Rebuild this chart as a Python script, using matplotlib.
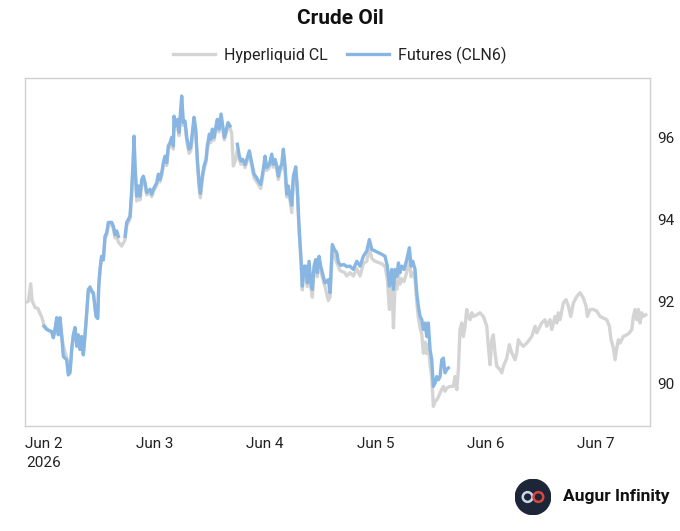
import numpy as np
import pandas as pd
import matplotlib
matplotlib.use("Agg")
import matplotlib.pyplot as plt
from matplotlib.patches import Circle

plt.rcParams['font.family'] = ['Roboto', 'DejaVu Sans']

# hours after 2026-06-02 00:00 and prices
# futures (CLN6); nan = daily break
fut_hours = [0.00, 0.59, 1.67, 2.02, 2.39, 2.76, 3.11, 3.48, 3.85, 4.20, 4.93, 5.28, 5.65, 6.02, 6.37,
             6.74, 7.11, 7.46, 7.83, 8.20, 8.54, 8.91, 9.28, 9.63, 10.00, 10.37, 10.72, 11.30, 11.67,
             11.89, 12.17, 12.50, 12.89, 13.26, 13.63, 13.98, 14.72, 15.07, 15.43, 15.80, 16.15, 16.60,
             17.61, 17.98, 18.70, 19.07, 19.41, 19.57, 19.78, 20.15, 20.50, 20.87, 21.24, 21.59, 21.96,
             22.33, 23.04, 23.41, 23.76, 24.50, 24.85, 25.22, 25.59, 25.94, 26.30, 26.67, 27.02, 27.39,
             27.76, 28.11, 28.26, 28.63, 29.07, 29.35, 29.57, 29.93, 30.28, 30.65, 31.02, 31.52, 31.89,
             32.24, 32.61, 32.98, 33.33, 33.70, 33.98, 34.41, 34.78, 35.22, 35.50, 35.94, 36.24, 36.59,
             36.96, 37.33, 37.67, 38.04, 38.48, 38.85, 39.20, 39.57, 40.00, 40.43, 41.00,
             42.02, 42.46, 42.83, 43.20, 43.70, 44.07, 44.63, 45.15, 45.65, 46.24, 46.59, 47.11, 47.67,
             48.04, 48.41, 48.98, 49.50, 49.85, 50.22, 50.59, 50.93, 51.30, 51.67, 52.02, 52.39, 52.76,
             53.11, 53.48, 53.85, 54.20, 54.72, 55.07, 55.43, 55.87, 56.15, 56.52, 56.89, 57.24, 57.61,
             57.98, 58.33, 58.70, 59.07, 59.41, 59.78, 60.15, 60.50, 61.09, 61.80, 62.17, 62.67, 63.11,
             63.63, 64.00, 64.50, 65.20,
             65.80, 66.52, 67.24, 67.98, 68.70, 69.41, 70.15, 70.72, 71.24, 71.96, 72.67, 73.41, 74.13,
             74.63, 75.07, 75.59, 75.96, 76.32, 76.69, 77.04, 77.39, 77.76, 78.26, 78.85, 79.41, 79.78,
             80.15, 80.65, 81.02, 81.37, 81.74, 82.11, 82.46, 82.83, 83.20, 83.54, 83.91, 84.28, 84.63,
             85.00, 85.37, 85.72, 86.09, 86.46, 86.80, 87.17, 87.54, 87.89]
fut_price = [91.39, 91.31, 91.26, 91.11, 91.31, 91.60, 91.18, 91.60, 91.14, 90.65, 90.57, 90.20, 90.25,
             90.82, 91.18, 91.36, 90.90, 91.18, 90.82, 91.14, 90.69, 91.18, 91.72, 92.29, 92.34, 92.25,
             92.21, 91.63, 91.58, 92.37, 92.78, 93.10, 93.02, 93.59, 93.68, 93.93, 93.93, 93.84, 93.63,
             93.72, 93.59, np.nan,
             93.59, 93.93, 94.08, 94.74, 95.55, 96.04, 95.31, 94.57, 94.82, 94.57, 94.98, 95.06, 94.90,
             94.66, 94.74, 94.62, 94.74, 94.90, 95.11, 94.98, 95.15, 95.39, 95.55, 95.39, 95.80, 95.88,
             96.01, 95.80, 96.53, 96.29, 96.45, 96.13, 96.45, 97.02, 96.37, 96.41, 96.01, 95.72, 95.76,
             96.13, 96.50, 96.21, 95.47, 94.90, 94.64, 95.06, 95.31, 95.47, 95.80, 96.09, 95.96, 96.21,
             96.01, 96.25, 96.45, 96.21, 96.58, 96.29, 96.01, 96.17, 96.37, 96.29, np.nan,
             95.84, 95.55, 95.43, 95.47, 95.35, 95.47, 95.68, 95.39, 95.11, 95.02, 94.94, 94.86, 95.23,
             95.55, 95.27, 95.35, 95.60, 95.35, 95.47, 95.31, 95.06, 95.27, 95.35, 95.72, 95.31, 94.62,
             94.82, 94.57, 94.35, 95.06, 95.29, 94.74, 93.84, 93.02, 92.37, 92.86, 92.86, 92.45, 92.98,
             92.45, 92.29, 92.86, 93.02, 92.70, 93.10, 92.86, 92.70, 92.45, 92.53, 92.21, 93.39, 93.27,
             93.19, 92.95, 92.88, 92.90,
             92.85, 92.86, 92.78, 92.98, 92.86, 93.10, 93.23, 93.51, 93.27, 93.23, 93.19, 93.15, 93.10,
             92.86, 92.37, 92.78, 92.29, 92.78, 92.61, 92.94, 92.70, 92.86, 92.78, 93.02, 93.31, 92.86,
             92.98, 92.78, 92.21, 91.88, 91.63, 91.55, 91.31, 91.47, 91.14, 91.47, 90.82, 90.57, 89.92,
             90.00, 90.16, 90.08, 90.16, 90.57, 90.61, 90.25, 90.33, 90.37]

# Hyperliquid CL
hl_hours = [-4.13, -3.40, -2.89, -2.60, -1.95, -1.30, -0.87, -0.50, 0.00,
            0.59, 1.67, 2.02, 2.39, 2.76, 3.11, 3.48, 3.85, 4.20, 4.93, 5.28, 5.65, 6.02, 6.37, 6.74,
            7.11, 7.46, 7.83, 8.20, 8.54, 8.91, 9.28, 9.63, 10.00, 10.37, 10.72, 11.30, 11.67, 11.89,
            12.17, 12.50, 12.89, 13.26, 13.63, 13.98, 14.72, 15.07, 15.43, 15.80, 16.15, 16.89, 17.61,
            17.98, 18.70, 19.07, 19.41, 19.57, 19.78, 20.15, 20.50, 20.87, 21.24, 21.59, 21.96, 22.33,
            23.04, 23.41, 23.76, 24.50, 24.85, 25.22, 25.59, 25.94, 26.30, 26.67, 27.02, 27.39, 27.76,
            28.11, 28.26, 28.63, 29.07, 29.35, 29.57, 29.93, 30.28, 30.65, 31.02, 31.52, 31.89, 32.24,
            32.61, 32.98, 33.33, 33.70, 33.98, 34.41, 34.78, 35.22, 35.50, 35.94, 36.24, 36.59, 36.96,
            37.33, 37.67, 38.04, 38.48, 38.85, 39.20, 39.57, 40.00, 40.43, 40.80, 41.15, 41.60, 42.02,
            42.46, 42.83, 43.20, 43.70, 44.07, 44.63, 45.15, 45.65, 46.24, 46.59, 47.11, 47.67, 48.04,
            48.41, 48.98, 49.50, 49.85, 50.22, 50.59, 50.93, 51.30, 51.67, 52.02, 52.39, 52.76, 53.11,
            53.48, 53.85, 54.20, 54.72, 55.07, 55.43, 55.87, 56.15, 56.52, 56.89, 57.24, 57.61, 57.98,
            58.33, 58.70, 59.07, 59.41, 59.78, 60.15, 60.50, 61.09, 61.80, 62.17, 62.67, 63.11, 63.63,
            64.35, 65.00, 65.40, 65.80, 66.52, 67.24, 67.98, 68.70, 69.41, 70.15, 70.72, 71.24, 71.96,
            72.67, 73.41, 74.13, 74.63, 75.07, 75.59, 75.96, 76.32, 76.69, 77.04, 77.39, 77.76, 78.26,
            78.85, 79.41, 79.78, 80.15, 80.65, 81.02, 81.37, 81.74, 82.11, 82.46, 82.83, 83.20, 83.54,
            83.91, 84.28, 84.63, 85.00, 85.37, 85.72, 86.09, 86.46, 86.80, 87.17, 87.54,
            87.89, 88.26, 88.98, 89.35, 89.72, 90.07, 90.43, 90.80, 91.15, 91.52, 91.89, 92.24, 92.61,
            92.98, 93.33, 94.07, 94.78, 95.50, 96.24, 96.59, 96.96, 97.33, 97.67, 98.04, 98.41, 99.13,
            99.50, 99.85, 100.59, 101.15, 101.67, 102.39, 102.76, 103.11, 103.48, 104.20, 104.94,
            105.50, 106.02, 106.74, 107.11, 107.46, 108.20, 108.91, 109.28, 110.00, 110.37, 111.09,
            111.46, 111.80, 112.17, 112.89, 113.48, 113.98, 114.50, 115.07, 115.80, 116.52, 117.24,
            117.83, 118.11, 118.70, 119.41, 120.15, 120.87, 121.59, 122.33, 122.89, 123.26, 123.76,
            124.13, 124.50, 124.85, 125.22, 125.93, 126.67, 127.24, 127.76, 128.11, 128.48, 128.85,
            129.20, 129.57, 129.93, 130.28, 130.80]
hl_price = [91.97, 92.00, 92.43, 92.02, 91.85, 91.82, 91.70, 91.62, 91.42,
            91.33, 91.24, 91.13, 91.30, 91.55, 91.20, 91.55, 91.16, 90.90, 90.62, 90.25, 90.30, 90.85,
            91.15, 91.30, 90.95, 91.15, 90.85, 91.10, 90.72, 91.15, 91.70, 92.25, 92.36, 92.22, 92.18,
            91.65, 91.60, 92.33, 92.75, 93.05, 93.00, 93.55, 93.62, 93.88, 93.86, 93.78, 93.55, 93.62,
            93.45, 93.35, 93.50, 93.85, 94.02, 94.65, 95.45, 95.90, 95.25, 94.45, 94.72, 94.48, 94.90,
            94.98, 94.82, 94.60, 94.66, 94.56, 94.68, 94.84, 95.04, 94.92, 95.08, 95.30, 95.48, 95.32,
            95.72, 95.80, 95.92, 95.72, 96.42, 96.20, 96.36, 96.05, 96.38, 96.90, 96.30, 96.33, 95.92,
            95.62, 95.68, 96.05, 96.42, 96.12, 95.38, 94.80, 94.53, 94.98, 95.22, 95.40, 95.72, 96.00,
            95.88, 96.12, 95.94, 96.18, 96.36, 96.14, 96.48, 96.22, 95.95, 96.10, 96.30, 96.25, 96.10,
            95.31, 95.45, 95.70, 95.45, 95.35, 95.40, 95.27, 95.40, 95.60, 95.30, 95.02, 94.92, 94.86,
            94.76, 95.15, 95.46, 95.20, 95.27, 95.52, 95.28, 95.38, 95.22, 94.98, 95.18, 95.26, 95.62,
            95.22, 94.55, 94.72, 94.45, 94.17, 94.98, 95.20, 94.65, 93.76, 92.95, 92.28, 92.76, 92.78,
            92.36, 92.88, 92.36, 92.10, 92.76, 92.92, 92.60, 92.98, 92.76, 92.58, 92.35, 92.02, 92.10,
            93.28, 93.10, 92.95, 92.75, 92.72, 92.70, 92.62, 92.70, 92.62, 92.80, 92.62, 92.92, 92.98,
            93.30, 93.05, 92.98, 92.95, 92.92, 92.85, 92.55, 91.80, 92.50, 91.35, 92.45, 92.30, 92.65,
            92.42, 92.55, 92.48, 92.72, 93.05, 92.60, 92.70, 92.55, 91.98, 91.60, 91.35, 91.20, 90.73,
            91.00, 90.72, 90.95, 90.45, 90.16, 89.43, 89.55, 89.59, 89.66, 89.76, 89.85, 89.92, 89.80,
            89.88,
            89.90, 89.92, 89.92, 90.16, 89.84, 90.33, 91.31, 91.47, 91.14, 91.39, 91.80, 91.63, 91.55,
            91.72, 91.63, 91.67, 91.72, 91.63, 91.39, 90.90, 90.45, 91.06, 91.18, 90.74, 90.41, 90.33,
            90.25, 90.41, 90.61, 90.94, 90.74, 90.57, 90.74, 91.06, 90.98, 90.90, 90.98, 91.06, 91.14,
            91.39, 91.23, 91.31, 91.47, 91.55, 91.39, 91.55, 91.31, 91.63, 91.47, 91.72, 91.55, 91.96,
            92.04, 91.88, 91.63, 91.96, 92.12, 92.21, 92.08, 91.88, 91.63, 91.80, 91.80, 91.76, 91.63,
            91.59, 91.55, 91.39, 91.06, 90.86, 90.57, 90.86, 91.06, 90.98, 91.14, 91.18, 91.23, 91.31,
            91.63, 91.80, 91.55, 91.80, 91.47, 91.72, 91.63, 91.67]

tick_days = ["2026-06-02", "2026-06-03", "2026-06-04", "2026-06-05", "2026-06-06", "2026-06-07"]
tick_labels = ["Jun 2\n2026", "Jun 3", "Jun 4", "Jun 5", "Jun 6", "Jun 7"]
y_ticks = [90, 92, 94, 96]

start = pd.Timestamp("2026-06-02")
fut_t = start + pd.to_timedelta(fut_hours, unit="h")
hl_t = start + pd.to_timedelta(hl_hours, unit="h")

fig = plt.figure(figsize=(6.8, 5.31), dpi=100)
ax = fig.add_axes([0.0368, 0.1977, 0.9192, 0.6553])

ax.plot(hl_t, hl_price, color="#d4d4d4", lw=2.4, label="Hyperliquid CL", solid_joinstyle="round")
ax.plot(fut_t, fut_price, color="#88b6e3", lw=2.4, label="Futures (CLN6)", solid_joinstyle="round")

ax.set_xlim(start - pd.Timedelta(hours=4.13), start + pd.Timedelta(hours=131.74))
ax.set_ylim(88.95, 97.46)

ax.set_xticks(pd.to_datetime(tick_days))
ax.set_xticklabels(tick_labels, linespacing=1.45)
ax.yaxis.tick_right()
ax.set_yticks(y_ticks)
ax.tick_params(axis="both", length=0, labelsize=11, colors="#222222")
ax.tick_params(axis="x", pad=8)
ax.tick_params(axis="y", pad=5)
for s in ax.spines.values():
    s.set_color("#d0d0d0")
    s.set_linewidth(1.0)

fig.text(0.5, 0.966, "Crude Oil", ha="center", va="center", fontsize=15, fontweight="bold", color="#111111")
fig.legend(loc="center", bbox_to_anchor=(0.5, 0.896), ncol=2, frameon=False, fontsize=11.5,
           handlelength=2.6, columnspacing=1.2, handletextpad=0.6, labelcolor="#222222")

# logo
lax = fig.add_axes([515 / 680, 1 - 515 / 531, 36 / 680, 36 / 531])
lax.set_xlim(-1, 1)
lax.set_ylim(-1, 1)
lax.set_aspect("equal")
lax.axis("off")
lax.add_patch(Circle((0, 0), 0.98, color="#1c2638"))
lax.add_patch(Circle((-0.3, 0), 0.27, fill=False, ec="#c9d6ea", lw=1.8))
lax.add_patch(Circle((0.3, 0), 0.27, fill=False, ec="#d9463e", lw=1.8))
fig.text(563 / 680, 1 - 497 / 531, "Augur Infinity", ha="left", va="center", fontsize=12.5,
         fontweight="bold", color="#111111")

fig.savefig("out.png", dpi=100)
